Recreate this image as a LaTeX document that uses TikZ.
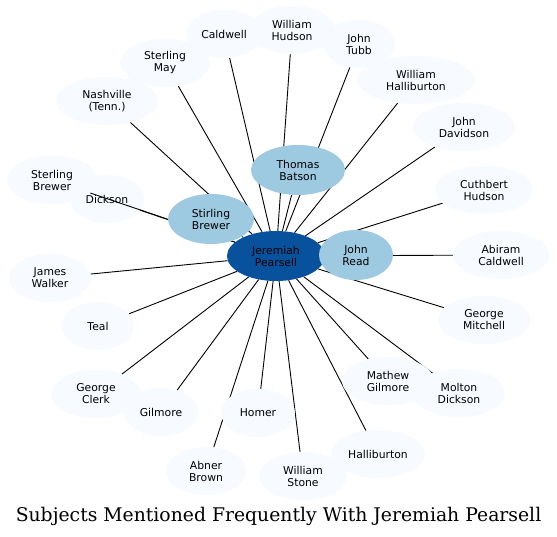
\documentclass[tikz,border=0pt]{standalone}
\usepackage{fontspec}
\setmainfont{DejaVu Sans}
\newfontfamily\titlefont{DejaVu Serif}
\usetikzlibrary{shapes.geometric}
\pgfdeclarelayer{bgb}
\pgfdeclarelayer{bg}
\pgfsetlayers{bgb,bg,main}
\definecolor{leafc}{HTML}{F7FBFF}
\definecolor{midc}{HTML}{9ECAE1}
\definecolor{corec}{HTML}{08519C}
\tikzset{
  person/.style={ellipse, inner sep=0pt, align=center, draw=none,
    font=\fontsize{10.8}{12}\selectfont},
  leafnode/.style={person, fill=leafc},
  midnode/.style={person, fill=midc},
  corenode/.style={person, fill=corec},
  link/.style={draw=black, line width=0.9pt},
}
\newcommand{\pnode}[6]{\node[#1, minimum width=#4pt, minimum height=#5pt] (#2) at (#3) {#6};}
\begin{document}
\begin{tikzpicture}[x=1pt,y=-1pt]
\useasboundingbox (0,0) rectangle (557,537);
\begin{pgfonlayer}{bgb}
\fill[white] (0,0) rectangle (557,537);
\end{pgfonlayer}
% core and second ring
\pnode{corenode}{jp}{276,256}{98}{50}{Jeremiah\\Pearsell}
\pnode{midnode}{sb}{211,219}{86}{50}{Stirling\\Brewer}
\pnode{midnode}{tb}{298,170}{94}{50}{Thomas\\Batson}
\pnode{midnode}{jr}{356,255}{74}{50}{John\\Read}
% leaves
\pnode{leafnode}{cw}{224,34}{76}{48}{Caldwell}
\pnode{leafnode}{wh}{292,30}{86}{48}{William\\Hudson}
\pnode{leafnode}{jt}{359,44}{72}{48}{John\\Tubb}
\pnode{leafnode}{whal}{416,80}{118}{48}{William\\Halliburton}
\pnode{leafnode}{jd}{464,127}{102}{48}{John\\Davidson}
\pnode{leafnode}{ch}{484,190}{98}{48}{Cuthbert\\Hudson}
\pnode{leafnode}{ac}{501,255}{96}{48}{Abiram\\Caldwell}
\pnode{leafnode}{gm}{484,320}{92}{48}{George\\Mitchell}
\pnode{leafnode}{md}{459,393}{92}{48}{Molton\\Dickson}
\pnode{leafnode}{mg}{388,381}{92}{48}{Mathew\\Gilmore}
\pnode{leafnode}{hal}{378,454}{94}{48}{Halliburton}
\pnode{leafnode}{ws}{303,476}{88}{48}{William\\Stone}
\pnode{leafnode}{ho}{258,413}{74}{48}{Homer}
\pnode{leafnode}{ab}{206,471}{80}{48}{Abner\\Brown}
\pnode{leafnode}{gi}{161,412}{74}{48}{Gilmore}
\pnode{leafnode}{gc}{96,394}{90}{48}{George\\Clerk}
\pnode{leafnode}{te}{98,326}{72}{48}{Teal}
\pnode{leafnode}{jw}{50,278}{82}{48}{James\\Walker}
\pnode{leafnode}{stb}{52,180}{90}{48}{Sterling\\Brewer}
\pnode{leafnode}{na}{107,101}{102}{48}{Nashville\\(Tenn.)}
\pnode{leafnode}{sm}{165,63}{90}{48}{Sterling\\May}
\begin{pgfonlayer}{bgb}
\pnode{leafnode}{di}{107,199}{74}{48}{Dickson}
\end{pgfonlayer}
\begin{pgfonlayer}{bg}
\foreach \n in {sb,tb,jr,cw,wh,jt,whal,jd,ch,ac,gm,md,mg,hal,ws,ho,ab,gi,gc,te,jw,stb,di,na,sm}
  \draw[link] (jp) -- (\n);
\end{pgfonlayer}
\node[font=\titlefont\fontsize{18.8}{20}\selectfont] (title) at (278.5,516) {Subjects Mentioned Frequently With Jeremiah Pearsell};
\end{tikzpicture}
\end{document}
